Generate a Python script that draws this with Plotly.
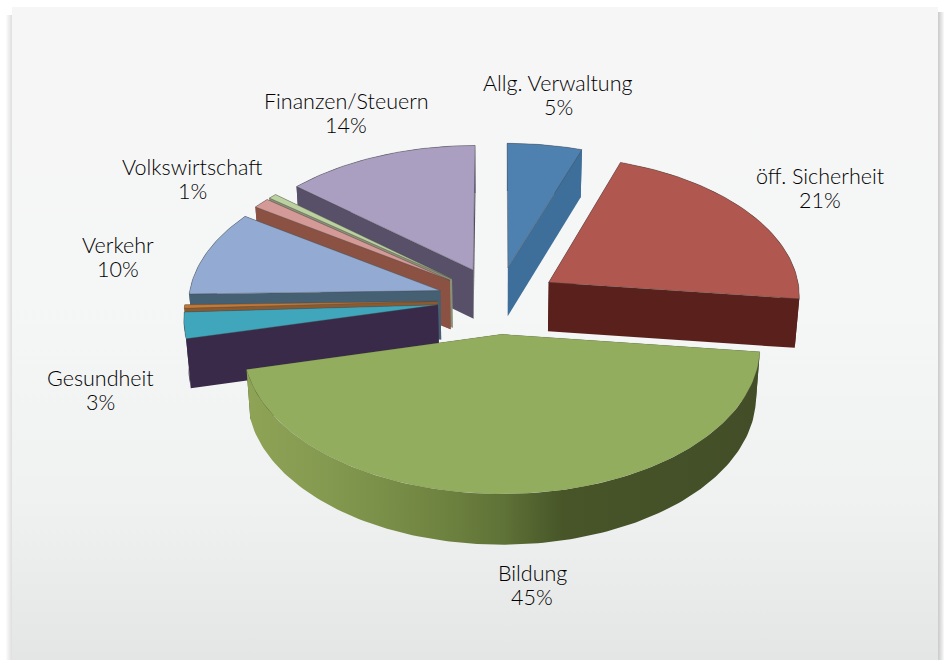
import math
import plotly.graph_objects as go

# ---------- data (estimated shares, clockwise from 12 o'clock) ----------
categories = ["Allg. Verwaltung", "öff. Sicherheit", "Bildung", "Gesundheit", "Sonstige 1",
              "Verkehr", "Sonstige 2", "Volkswirtschaft", "Finanzen/Steuern"]
values = [5.3, 21.6, 44.3, 3.0, 0.4, 9.9, 1.2, 0.6, 13.7]
percent_labels = ["5%", "21%", "45%", "3%", "", "10%", "", "1%", "14%"]

top_colors = ["#4F81B0", "#B0584F", "#93AD5E", "#3FA6BC", "#C47A35", "#93ABD2", "#D39A97", "#BCD1A0", "#AA9FC0"]
wall_colors = ["#3D6F9A", "#5A211C", None, "#392A49", "#8A5A30", "#455F73", "#8B5243", "#8A8F75", "#575068"]
green_wall = [[0, "#8FA356"], [0.16, "#83994F"], [0.38, "#6F8340"], [0.5, "#5F7237"],
              [0.62, "#475528"], [1, "#434E28"]]

# ---------- projection parameters ----------
CX, CY, RX, RY, K, H, EXPL = 498, 300, 252, 140, 0.085, 49, 0.24
PANEL = (12, 7, 938, 660)


def proj(X, Y, down):
    s = 1 / (1 + K * Y)
    px, py = CX + RX * X * s, CY - RY * Y * s
    if down:
        px = CX + (px - CX) * 0.985
        py += H * s ** 0.3
    return px, py


fig = go.Figure()


def poly(pts, color=None, gradient=None, line=None, lw=0.7):
    xs = [p[0] for p in pts] + [pts[0][0]]
    ys = [p[1] for p in pts] + [pts[0][1]]
    kw = dict(x=xs, y=ys, mode="lines", fill="toself", hoverinfo="skip", showlegend=False,
              line=dict(color=line or "rgba(0,0,0,0)", width=lw if line else 0))
    if gradient:
        kw["fillgradient"] = gradient
    else:
        kw["fillcolor"] = color
    fig.add_trace(go.Scatter(**kw))


# ---------- panel ----------
x0, y0, x1, y1 = PANEL
shapes = []
for d in range(1, 7):
    shapes.append(dict(type="rect", x0=x1, x1=x1 + d, y0=y0 + 5, y1=y1, xref="x", yref="y",
                       fillcolor="rgba(90,90,90,0.055)", line_width=0, layer="below"))
    shapes.append(dict(type="rect", x0=x0 - d, x1=x0, y0=y0 + 8, y1=y1, xref="x", yref="y",
                       fillcolor="rgba(90,90,90,0.03)", line_width=0, layer="below"))
poly([(x0, y0), (x1, y0), (x1, y1), (x0, y1)],
     gradient=dict(type="vertical", start=y0, stop=y1,
                   colorscale=[[0, "#F6F6F6"], [0.45, "#F5F6F6"], [0.75, "#F0F1F1"], [1, "#E4E5E5"]]))

# ---------- slices ----------
total = sum(values)
slices = []
acc = 0.0
for i, v in enumerate(values):
    a0 = acc / total * 2 * math.pi
    acc += v
    a1 = acc / total * 2 * math.pi
    slices.append((i, a0, a1))


def draw_slice(i, a0, a1):
    mid = (a0 + a1) / 2
    ox, oy = EXPL * math.sin(mid), EXPL * math.cos(mid)
    n = max(4, int((a1 - a0) / 0.02))
    arc = [(ox + math.sin(a0 + (a1 - a0) * t / n), oy + math.cos(a0 + (a1 - a0) * t / n)) for t in range(n + 1)]
    top = [proj(ox, oy, False)] + [proj(X, Y, False) for X, Y in arc]
    wall = wall_colors[i]
    grad = None
    if wall is None:
        grad = dict(type="horizontal", start=proj(arc[-1][0], arc[-1][1], True)[0],
                    stop=proj(arc[0][0], arc[0][1], True)[0], colorscale=green_wall)
    faces = []
    arc_pts = [proj(X, Y, False) for X, Y in arc] + [proj(X, Y, True) for X, Y in reversed(arc)]
    faces.append((sum(Y for _, Y in arc) / len(arc), arc_pts, grad))
    for X, Y in (arc[0], arc[-1]):
        pts = [proj(X, Y, False), proj(ox, oy, False), proj(ox, oy, True), proj(X, Y, True)]
        faces.append(((Y + oy) / 2, pts, None))
    for _, pts, g in sorted(faces, key=lambda f: -f[0]):
        if g is None:
            poly(pts, color=wall or "#434E28")
        else:
            poly(pts, gradient=g)
    outline = "rgba(70,70,70,0.12)" if wall is None else "rgba(70,70,70,0.5)"
    poly(top, color=top_colors[i], line=outline, lw=0.8)


for i, a0, a1 in sorted(slices, key=lambda s: -math.cos((s[1] + s[2]) / 2)):
    draw_slice(i, a0, a1)

# ---------- labels ----------
label_pos = {
    "Allg. Verwaltung": (558, 95),
    "öff. Sicherheit": (820, 188),
    "Bildung": (532, 585),
    "Gesundheit": (100, 390),
    "Verkehr": (118, 257),
    "Volkswirtschaft": (192, 179),
    "Finanzen/Steuern": (346, 113),
}
annotations = []
for c, p in zip(categories, percent_labels):
    if not p:
        continue
    ax, ay = label_pos[c]
    for txt, dy in ((c, -12), (p, 12)):
        annotations.append(dict(x=ax, y=ay + dy, xref="x", yref="y", text=txt, showarrow=False,
                                align="center", xanchor="center", yanchor="middle",
                                font=dict(family="Lato", size=21.5, weight=300, color="#000000")))

fig.update_layout(
    width=947, height=660, margin=dict(l=0, r=0, t=0, b=0),
    paper_bgcolor="white", plot_bgcolor="white",
    xaxis=dict(range=[0, 947], visible=False, fixedrange=True),
    yaxis=dict(range=[660, 0], visible=False, fixedrange=True),
    shapes=shapes, annotations=annotations, showlegend=False,
)
fig.write_html("out.html", config={"displayModeBar": False},
               post_script="document.body.style.margin='0';")
